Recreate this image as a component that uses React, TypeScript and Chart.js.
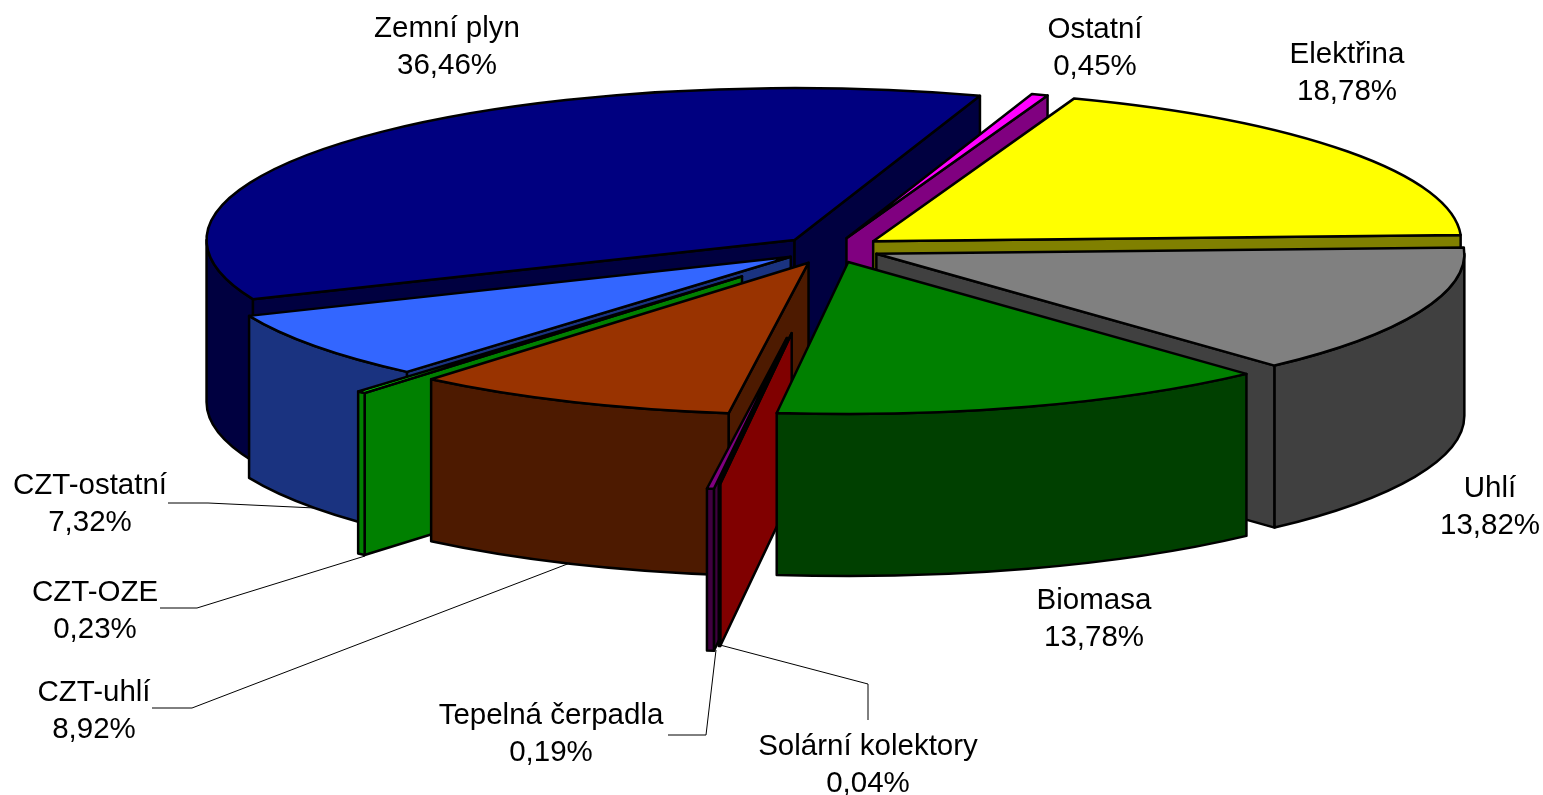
import React, { useEffect, useRef } from "react";
import { Chart, registerables } from "chart.js";

Chart.register(...registerables);

const categories = ["Elektřina", "Uhlí", "Biomasa", "Solární kolektory", "Tepelná čerpadla", "CZT-uhlí", "CZT-OZE", "CZT-ostatní", "Zemní plyn", "Ostatní"];
const shares = [18.78, 13.82, 13.78, 0.04, 0.19, 8.92, 0.23, 7.32, 36.46, 0.45];
const topColors = ["#FFFF00", "#808080", "#008000", "#FF0000", "#800080", "#993300", "#00FF00", "#3366FF", "#000080", "#FF00FF"];
const wallColors = ["#808000", "#404040", "#004000", "#800000", "#400040", "#4D1A00", "#008000", "#1A3380", "#000040", "#800080"];
const explode = [51, 48, 53, 328, 347, 58, 139, 51, 51, 44];
const paintOrder = [8, 9, 0, 1, 7, 6, 5, 4, 3, 2];

// label anchor (centre x, first line centre y) per category
const labelX = [1347, 1490, 1094, 868, 551, 94, 95, 90, 447, 1095];
const labelY = [55, 489, 601, 747, 716, 693, 593, 486, 29, 30];
const leaders: (number[][] | null)[] = [
  null, null, null,
  [[868, 720], [868, 684], [720, 645]],
  [[668, 735], [706, 735], [716, 650]],
  [[152, 708], [192, 708], [570, 563]],
  [[160, 608], [197, 608], [365, 556]],
  [[168, 503], [208, 503], [315, 508]],
  null, null,
];

const CX = 832, CY = 249, RX = 588, RY = 152, DEPTH = 162;

const pie3d = {
  id: "pie3d",
  beforeDatasetDraw(chart: any, args: any) {
    const ctx = chart.ctx as CanvasRenderingContext2D;
    const arcs = chart.getDatasetMeta(args.index).data;
    const SQUASH = RY / RX;
    ctx.save();
    ctx.lineWidth = 2.5;
    ctx.lineJoin = "round";
    ctx.strokeStyle = "#000";

    paintOrder.forEach((i) => {
      const el = arcs[i];
      const s = el.startAngle, e = el.endAngle;
      const mid = (s + e) / 2;
      const d = el.options.offset;
      const tx = CX + d * Math.cos(mid);
      const ty = CY + d * SQUASH * Math.sin(mid);
      const px = (a: number) => tx + RX * Math.cos(a);
      const py = (a: number) => ty + RY * Math.sin(a);

      const radial = (a: number) => {
        ctx.beginPath();
        ctx.moveTo(tx, ty);
        ctx.lineTo(px(a), py(a));
        ctx.lineTo(px(a), py(a) + DEPTH);
        ctx.lineTo(tx, ty + DEPTH);
        ctx.closePath();
        ctx.fillStyle = wallColors[i];
        ctx.fill();
        ctx.stroke();
      };
      if (Math.cos(s) < 0) radial(s);
      if (Math.cos(e) > 0) radial(e);

      // outer wall: the part of the rim that faces the viewer
      for (let k = -1; k <= 1; k++) {
        const lo = Math.max(s, 2 * Math.PI * k);
        const hi = Math.min(e, 2 * Math.PI * k + Math.PI);
        if (hi <= lo) continue;
        ctx.beginPath();
        ctx.ellipse(tx, ty, RX, RY, 0, lo, hi);
        ctx.lineTo(px(hi), py(hi) + DEPTH);
        ctx.ellipse(tx, ty + DEPTH, RX, RY, 0, hi, lo, true);
        ctx.closePath();
        ctx.fillStyle = wallColors[i];
        ctx.fill();
        ctx.stroke();
      }

      // top face
      ctx.beginPath();
      ctx.moveTo(tx, ty);
      ctx.ellipse(tx, ty, RX, RY, 0, s, e);
      ctx.closePath();
      ctx.fillStyle = topColors[i];
      ctx.fill();
      ctx.stroke();
    });

    // leader lines
    ctx.lineWidth = 1;
    leaders.forEach((pts) => {
      if (!pts) return;
      ctx.beginPath();
      pts.forEach((p, n) => (n ? ctx.lineTo(p[0], p[1]) : ctx.moveTo(p[0], p[1])));
      ctx.stroke();
    });

    // labels
    ctx.fillStyle = "#000";
    ctx.font = '29.5px "Liberation Sans"';
    ctx.textAlign = "center";
    ctx.textBaseline = "middle";
    categories.forEach((name, i) => {
      ctx.fillText(name, labelX[i], labelY[i]);
      ctx.fillText(shares[i].toFixed(2).replace(".", ",") + "%", labelX[i], labelY[i] + 37);
    });
    ctx.restore();
    return false;
  },
};

export default function App() {
  const ref = useRef<HTMLCanvasElement>(null);
  useEffect(() => {
    const chart = new Chart(ref.current!, {
      type: "pie",
      data: {
        labels: categories,
        datasets: [{ data: shares, backgroundColor: topColors, offset: explode, borderWidth: 2, borderColor: "#000" }],
      },
      options: {
        animation: false,
        responsive: false,
        rotation: 20,
        events: [],
        plugins: { legend: { display: false }, tooltip: { enabled: false } },
      },
      plugins: [pie3d],
    } as any);
    return () => chart.destroy();
  }, []);
  return (
    <canvas
      ref={ref}
      width={1543}
      height={795}
      style={{ position: "fixed", left: 0, top: 0, width: 1543, height: 795, background: "#fff" }}
    />
  );
}
